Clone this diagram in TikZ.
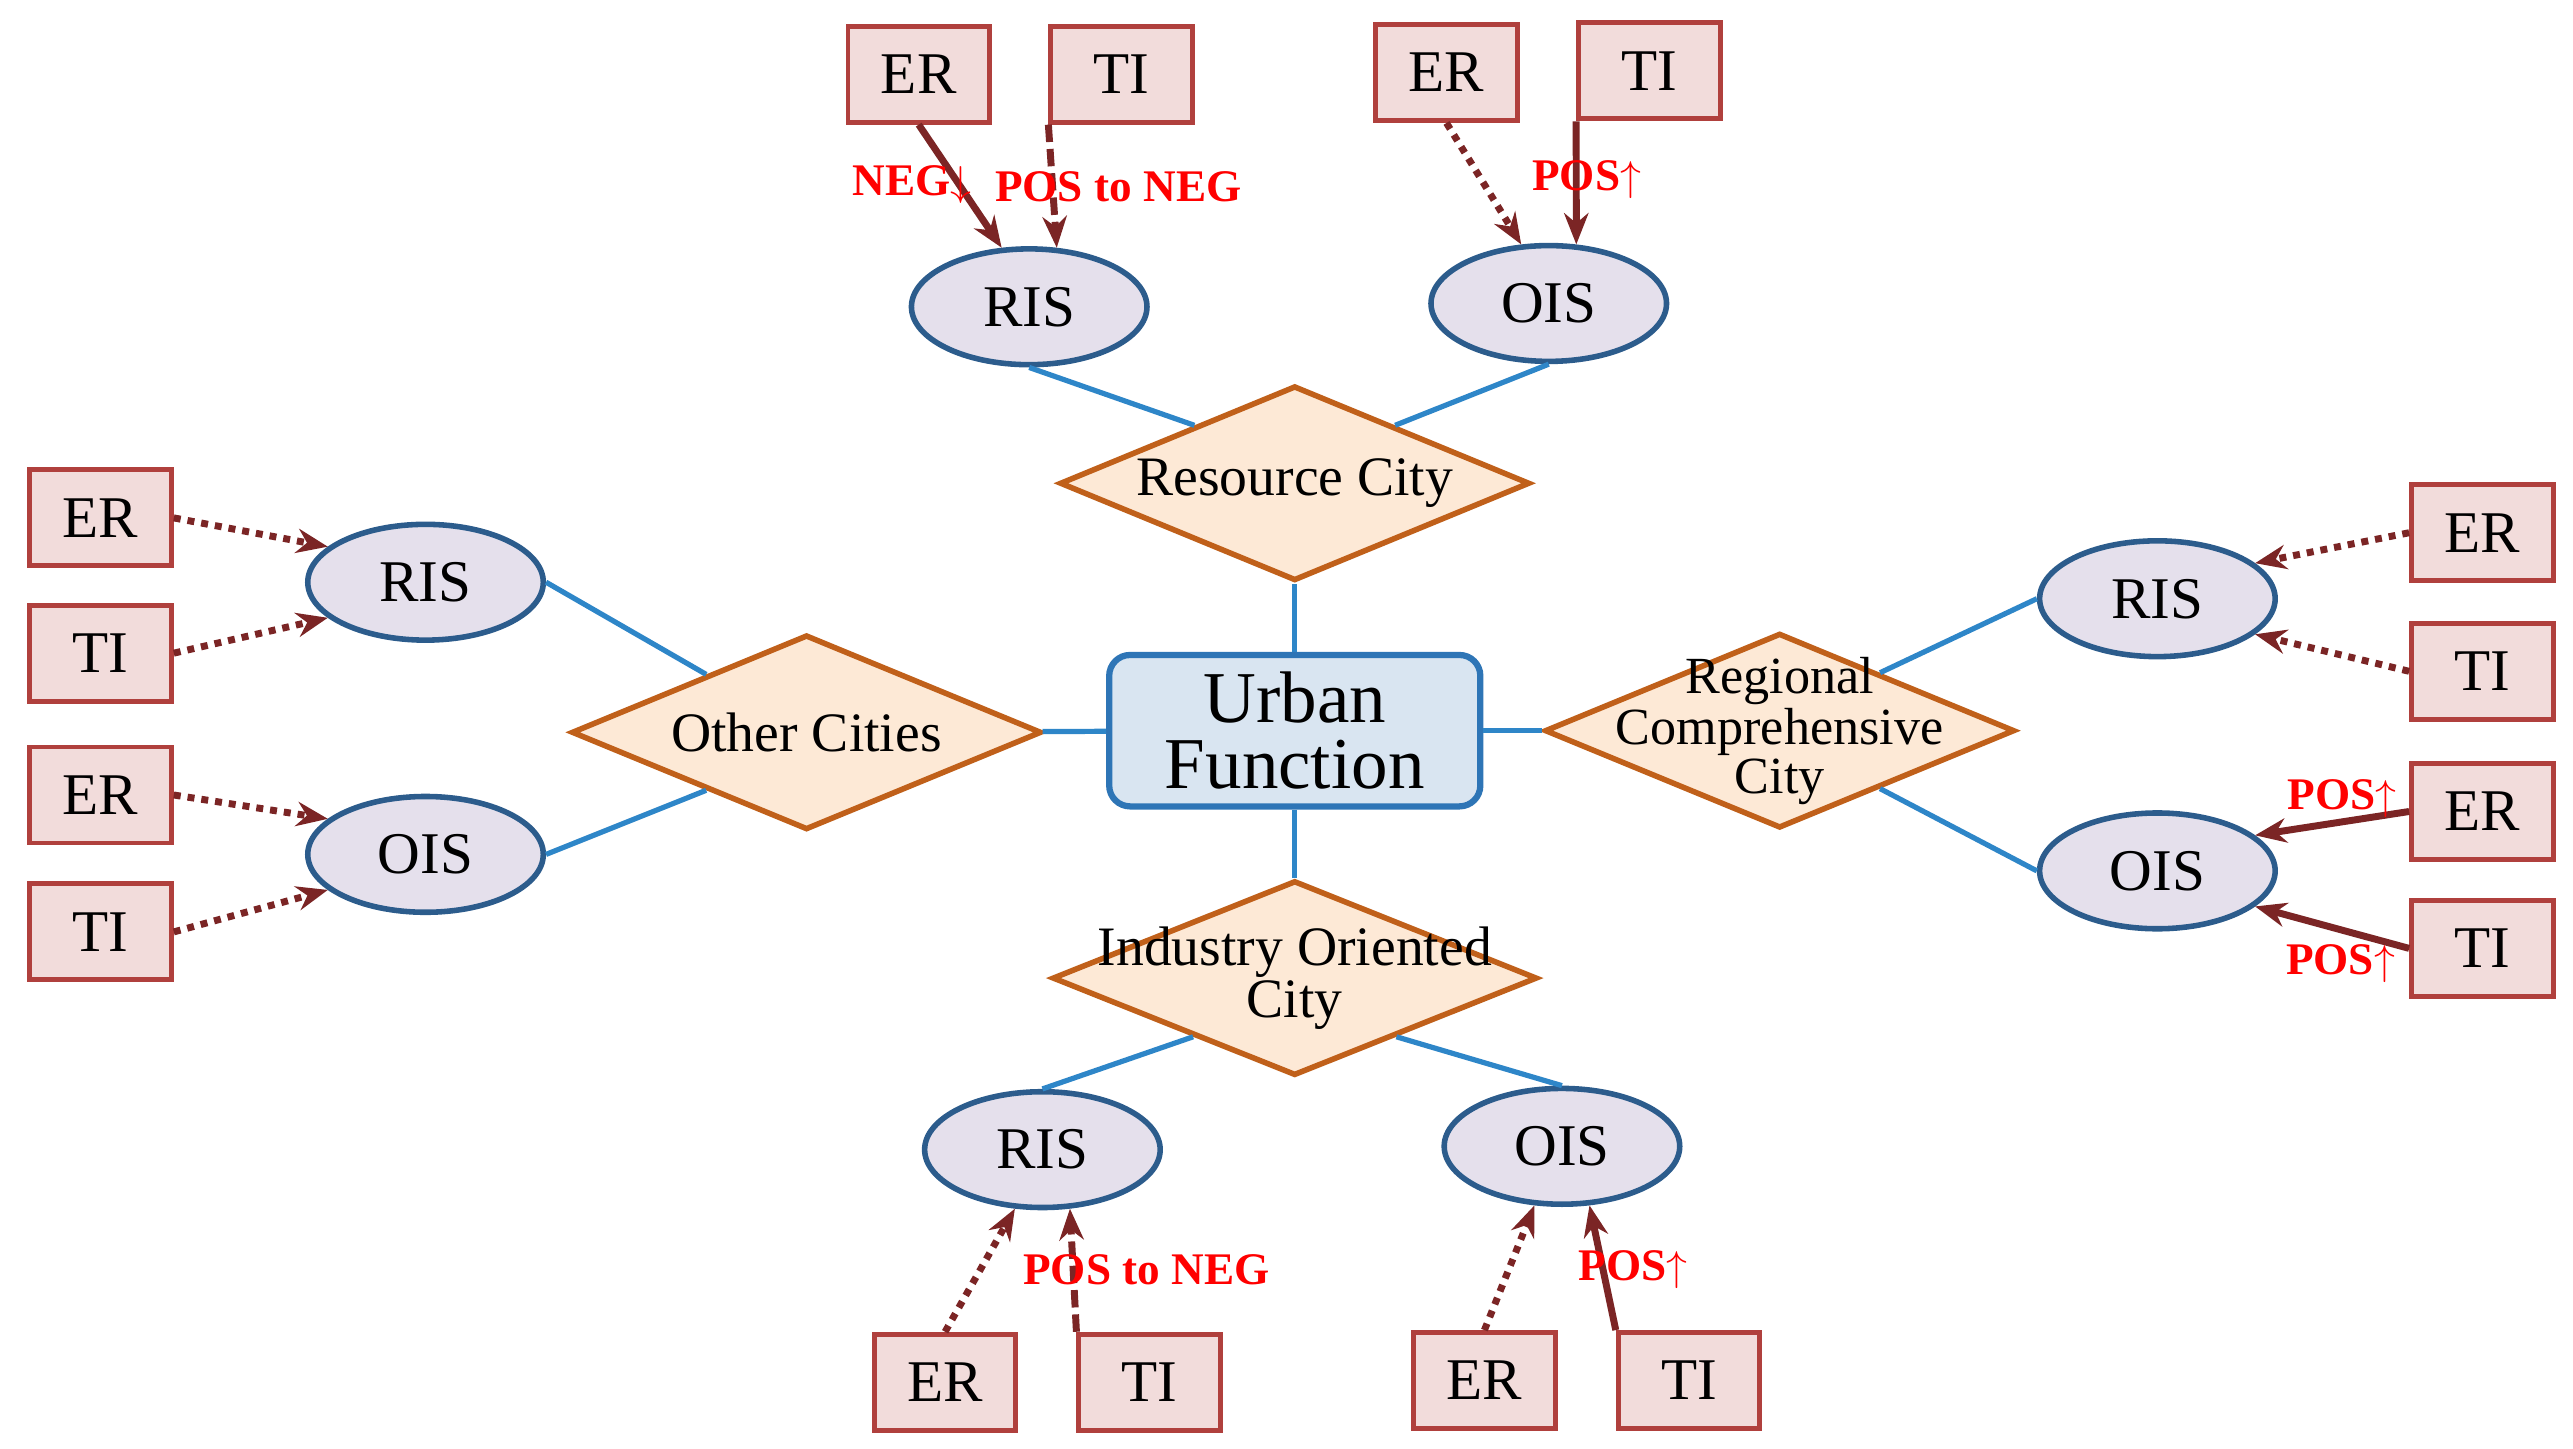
\documentclass[tikz,border=0pt]{standalone}
\usepackage{fontspec}
\setmainfont{Liberation Serif}
\usetikzlibrary{shapes.geometric,arrows.meta}
\definecolor{boxf}{HTML}{F2DCDB}\definecolor{boxd}{HTML}{B0403D}
\definecolor{elf}{HTML}{E5E0EC}\definecolor{eld}{HTML}{2C5C8C}
\definecolor{dif}{HTML}{FDE9D6}\definecolor{did}{HTML}{C0601A}
\definecolor{ubf}{HTML}{D9E5F1}\definecolor{ubd}{HTML}{2E75B6}
\definecolor{ar}{HTML}{7B2525}\definecolor{ln}{HTML}{2E86C8}
\tikzset{
 box/.style={draw=boxd,fill=boxf,line width=1.4pt,minimum width=1.43cm,minimum height=0.97cm,font=\fontsize{17}{19}\selectfont,inner sep=0pt},
 el/.style={ellipse,draw=eld,fill=elf,line width=1.6pt,minimum width=2.38cm,minimum height=1.17cm,font=\fontsize{17}{19}\selectfont,inner sep=0pt},
 dia/.style={diamond,aspect=2.4,draw=did,fill=dif,line width=1.6pt,minimum width=4.75cm,minimum height=1.97cm,inner sep=0pt},
 dt/.style={align=center,inner sep=0pt,font=\fontsize{16}{14}\selectfont},
 con/.style={draw=ln,line width=1.5pt},
 sol/.style={draw=ar,line width=2pt,-{Stealth[length=9pt,width=7pt]}},
 dot/.style={draw=ar,line width=2pt,dotted,-{Stealth[length=9pt,width=7pt]}},
 das/.style={draw=ar,line width=2pt,dash pattern=on 5pt off 2pt,-{Stealth[length=9pt,width=7pt]}},
 lab/.style={text=red,font=\bfseries\fontsize{13}{14}\selectfont,inner sep=0pt}
}
\begin{document}
\begin{tikzpicture}[x=1cm/60,y=-1cm/60]
\useasboundingbox (0,0) rectangle (1560,878);
\node[draw=ubd,fill=ubf,line width=1.8pt,rounded corners=6pt,minimum width=3.75cm,minimum height=1.53cm,align=center,font=\fontsize{21}{19}\selectfont] (u) at (785,443) {Urban\\Function};
\node[dia] (rc) at (785,293) {};
\node[dia] (oc) at (489,444) {};
\node[dia] (rg) at (1079,443) {};
\node[dia,minimum width=4.9cm] (ic) at (785,593) {};
\node[dt] (rct) at (rc) {Resource City};
\node[dt] (oct) at (oc) {Other Cities};
\node[dt,font=\fontsize{15}{12}\selectfont] (rgt) at (rg) {Regional\\Comprehensive\\City};
\node[dt,font=\fontsize{16}{15}\selectfont] (ict) at (ic) {Industry Oriented\\City};
\draw[con] (u) -- (rc); \draw[con] (u) -- (oc); \draw[con] (u) -- (rg); \draw[con] (u) -- (ic);
\node[el] (r1) at (624,186) {RIS}; \node[el] (o1) at (939,184) {OIS};
\node[el] (r2) at (258,353) {RIS}; \node[el] (o2) at (258,518) {OIS};
\node[el] (r3) at (1308,363) {RIS}; \node[el] (o3) at (1308,528) {OIS};
\node[el] (r4) at (632,697) {RIS}; \node[el] (o4) at (947,695) {OIS};
\draw[con] (r1.south) -- (rc.150); \draw[con] (o1.south) -- (rc.30);
\draw[con] (r2.east) -- (oc.150); \draw[con] (o2.east) -- (oc.210);
\draw[con] (r3.west) -- (rg.30); \draw[con] (o3.west) -- (rg.330);
\draw[con] (r4.north) -- (ic.210); \draw[con] (o4.north) -- (ic.330);
\node[box] (e1) at (557,45) {ER}; \node[box] (t1) at (680,45) {TI};
\node[box] (e2) at (877,44) {ER}; \node[box] (t2) at (1000,43) {TI};
\node[box] (e3) at (61,314) {ER}; \node[box] (t3) at (61,396) {TI};
\node[box] (e4) at (61,482) {ER}; \node[box] (t4) at (61,565) {TI};
\node[box] (e5) at (1505,323) {ER}; \node[box] (t5) at (1505,407) {TI};
\node[box] (e6) at (1505,492) {ER}; \node[box] (t6) at (1505,575) {TI};
\node[box] (e7) at (573,838) {ER}; \node[box] (t7) at (697,838) {TI};
\node[box] (e8) at (900,837) {ER}; \node[box] (t8) at (1024,837) {TI};
\draw[sol] (e1.south) -- (r1.115); \draw[das] (t1.south west) -- (r1.65);
\draw[dot] (e2.south) -- (o1.115); \draw[sol] (t2.south west) -- (o1.65);
\draw[dot] (e3.east) -- (r2.160); \draw[dot] (t3.east) -- (r2.200);
\draw[dot] (e4.east) -- (o2.160); \draw[dot] (t4.east) -- (o2.200);
\draw[dot] (e5.west) -- (r3.20); \draw[dot] (t5.west) -- (r3.340);
\draw[sol] (e6.west) -- (o3.20); \draw[sol] (t6.west) -- (o3.340);
\draw[dot] (e7.north) -- (r4.245); \draw[das] (t7.north west) -- (r4.295);
\draw[dot] (e8.north) -- (o4.245); \draw[sol] (t8.north west) -- (o4.295);
\node[lab] (l1) at (553,112) {NEG$\downarrow$};
\node[lab] (l2) at (678,113) {POS to NEG};
\node[lab] (l3) at (962,109) {POS$\uparrow$};
\node[lab] (l4) at (1420,484) {POS$\uparrow$};
\node[lab] (l5) at (1419,584) {POS$\uparrow$};
\node[lab] (l6) at (695,770) {POS to NEG};
\node[lab] (l7) at (990,770) {POS$\uparrow$};
\end{tikzpicture}
\end{document}
